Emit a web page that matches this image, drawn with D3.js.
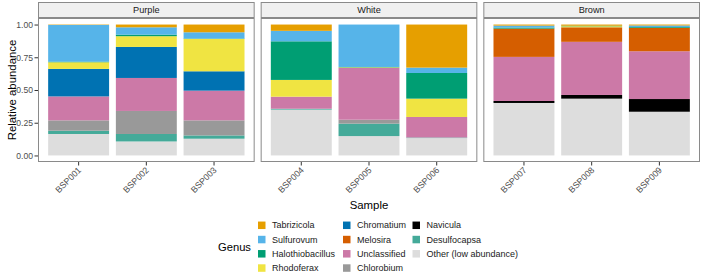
<!DOCTYPE html>
<html>
<head>
<meta charset="utf-8">
<script src="https://d3js.org/d3.v7.min.js"></script>
<style>
  body { margin: 0; background: #ffffff; }
  text { font-family: "Liberation Sans", Arial, sans-serif; }
</style>
</head>
<body>
<div id="chart"></div>
<script>
// Samples and the facet each one belongs to
const samples = ["BSP001", "BSP002", "BSP003", "BSP004", "BSP005", "BSP006", "BSP007", "BSP008", "BSP009"];
const sampleGroup = ["Purple", "Purple", "Purple", "White", "White", "White", "Brown", "Brown", "Brown"];
const groups = ["Purple", "White", "Brown"];

// Genera in legend order (top of stack first)
const genera = ["Tabrizicola", "Sulfurovum", "Halothiobacillus", "Rhodoferax", "Chromatium", "Melosira",
    "Unclassified", "Chlorobium", "Navicula", "Desulfocapsa", "Other (low abundance)"];
const genusColors = ["#E69F00", "#56B4E9", "#009E73", "#F0E442", "#0072B2", "#D55E00",
    "#CC79A7", "#999999", "#000000", "#44AA99", "#DDDDDD"];

// Relative abundance per genus, one value per sample (BSP001..BSP009)
const tabrizicola      = [0.003, 0.021, 0.059, 0.048, 0.000, 0.329, 0.008, 0.009, 0.007];
const sulfurovum       = [0.280, 0.056, 0.048, 0.080, 0.324, 0.041, 0.015, 0.000, 0.012];
const halothiobacillus = [0.005, 0.012, 0.003, 0.295, 0.003, 0.196, 0.008, 0.004, 0.006];
const rhodoferax       = [0.051, 0.082, 0.247, 0.128, 0.004, 0.140, 0.000, 0.008, 0.000];
const chromatium       = [0.210, 0.237, 0.148, 0.000, 0.000, 0.000, 0.000, 0.000, 0.000];
const melosira         = [0.000, 0.000, 0.000, 0.000, 0.000, 0.000, 0.216, 0.111, 0.179];
const unclassified     = [0.183, 0.252, 0.227, 0.092, 0.396, 0.157, 0.337, 0.406, 0.365];
const chlorobium       = [0.079, 0.176, 0.115, 0.000, 0.030, 0.000, 0.000, 0.000, 0.000];
const navicula         = [0.000, 0.000, 0.000, 0.000, 0.000, 0.000, 0.015, 0.028, 0.097];
const desulfocapsa     = [0.025, 0.057, 0.025, 0.007, 0.095, 0.004, 0.000, 0.000, 0.000];
const other            = [0.164, 0.107, 0.128, 0.350, 0.148, 0.133, 0.401, 0.434, 0.334];

const seriesValues = [tabrizicola, sulfurovum, halothiobacillus, rhodoferax, chromatium, melosira,
    unclassified, chlorobium, navicula, desulfocapsa, other];

const yTicks = [0, 0.25, 0.5, 0.75, 1];

// Size and layout
const width = 702;
const height = 273;
const panelLeft = 38;
const panelGap = 6;
const panelWidth = (width - 2 - panelLeft - 2 * panelGap) / 3;
const stripTop = 2;
const stripHeight = 16;
const panelTop = stripTop + stripHeight;
const panelBottom = 162;
const borderColor = "#8a8a8a";
const textColor = "#4d4d4d";

const svg = d3.select("#chart")
    .append("svg")
    .attr("width", width)
    .attr("height", height);

// Build a table: one row per sample with each genus as a column
const table = samples.map(function (s, i) {
    const row = { sample: s, group: sampleGroup[i] };
    genera.forEach(function (g, j) { row[g] = seriesValues[j][i]; });
    return row;
});

// ggplot stacks the last legend entry at the bottom
const stack = d3.stack().keys(genera.slice().reverse());
const colorScale = d3.scaleOrdinal().domain(genera).range(genusColors);

// y scale with 5% expansion like ggplot
const yExpand = (panelBottom - panelTop) * 0.05 / 1.1;
const y = d3.scaleLinear()
    .domain([0, 1])
    .range([panelBottom - yExpand, panelTop + yExpand]);

const facetX = d3.scaleBand()
    .domain(groups)
    .range([panelLeft, panelLeft + 3 * panelWidth + 2 * panelGap])
    .paddingInner(panelGap / (panelWidth + panelGap));

groups.forEach(function (grp, gi) {
    const rows = table.filter(function (d) { return d.group === grp; });
    const x0 = facetX(grp);
    const x = d3.scaleBand()
        .domain(rows.map(function (d) { return d.sample; }))
        .range([x0, x0 + facetX.bandwidth()])
        .paddingInner(0.1)
        .paddingOuter(0.15);

    const g = svg.append("g");

    // Panel background
    g.append("rect")
        .attr("x", x0)
        .attr("y", panelTop)
        .attr("width", facetX.bandwidth())
        .attr("height", panelBottom - panelTop)
        .attr("fill", "#ffffff");

    // Stacked bars
    const layers = stack(rows);
    g.selectAll("g.layer")
        .data(layers)
        .enter().append("g")
        .attr("class", "layer")
        .attr("fill", function (d) { return colorScale(d.key); })
        .selectAll("rect")
        .data(function (d) { return d; })
        .enter().append("rect")
        .attr("x", function (d) { return x(d.data.sample); })
        .attr("y", function (d) { return y(d[1]); })
        .attr("width", x.bandwidth())
        .attr("height", function (d) { return Math.max(0, y(d[0]) - y(d[1])); });

    // Panel border
    g.append("rect")
        .attr("x", x0 + 0.5)
        .attr("y", panelTop + 0.5)
        .attr("width", facetX.bandwidth() - 1)
        .attr("height", panelBottom - panelTop - 1)
        .attr("fill", "none")
        .attr("stroke", borderColor)
        .attr("stroke-width", 1);

    // Strip
    g.append("rect")
        .attr("x", x0 + 0.5)
        .attr("y", stripTop + 0.5)
        .attr("width", facetX.bandwidth() - 1)
        .attr("height", stripHeight - 1)
        .attr("fill", "#f0f0f0")
        .attr("stroke", borderColor)
        .attr("stroke-width", 1);

    g.append("text")
        .attr("x", x0 + facetX.bandwidth() / 2)
        .attr("y", stripTop + stripHeight / 2)
        .attr("dy", "0.35em")
        .attr("text-anchor", "middle")
        .style("font-size", "9.2px")
        .style("fill", "#1a1a1a")
        .text(grp);

    // X axis ticks and rotated labels
    const xAxis = g.append("g");
    rows.forEach(function (d) {
        const cx = x(d.sample) + x.bandwidth() / 2;
        xAxis.append("line")
            .attr("x1", cx).attr("x2", cx)
            .attr("y1", panelBottom).attr("y2", panelBottom + 3.5)
            .attr("stroke", "#333333");
        xAxis.append("text")
            .attr("transform", "translate(" + (cx - 1.5) + "," + (panelBottom + 4) + ") rotate(-45)")
            .attr("text-anchor", "end")
            .attr("dy", "0.75em")
            .style("font-size", "8.8px")
            .style("fill", textColor)
            .text(d.sample);
    });

    // Y axis only on the first panel
    if (gi === 0) {
        const yAxis = svg.append("g")
            .attr("transform", "translate(" + x0 + ",0)")
            .call(d3.axisLeft(y).tickValues(yTicks).tickFormat(d3.format(".2f")).tickSize(3.5).tickPadding(1.5));
        yAxis.select(".domain").remove();
        yAxis.selectAll(".tick line").attr("stroke", "#333333");
        yAxis.selectAll(".tick text")
            .style("font-size", "8.6px")
            .style("fill", textColor)
            .style("font-family", "'Liberation Sans', Arial, sans-serif");
    }
});

// Axis titles
svg.append("text")
    .attr("transform", "translate(12," + ((panelTop + panelBottom) / 2) + ") rotate(-90)")
    .attr("text-anchor", "middle")
    .attr("dy", "0.35em")
    .style("font-size", "11.4px")
    .style("fill", "#000000")
    .text("Relative abundance");

svg.append("text")
    .attr("x", (panelLeft + width - 2) / 2)
    .attr("y", 209)
    .attr("text-anchor", "middle")
    .style("font-size", "11.4px")
    .style("fill", "#000000")
    .text("Sample");

// Legend: 4 rows, filled column by column
const legendColX = [258, 343, 412.5];
const legendRowY = 225.3;
const legendRowStep = 14.25;
const keySize = 7.5;

const legend = svg.append("g");

legend.append("text")
    .attr("x", 218)
    .attr("y", legendRowY + 1.5 * legendRowStep)
    .attr("dy", "0.35em")
    .style("font-size", "11.2px")
    .style("fill", "#000000")
    .text("Genus");

genera.forEach(function (gName, i) {
    const col = Math.floor(i / 4);
    const row = i % 4;
    const cy = legendRowY + row * legendRowStep;
    legend.append("rect")
        .attr("x", legendColX[col])
        .attr("y", cy - keySize / 2)
        .attr("width", keySize)
        .attr("height", keySize)
        .attr("fill", genusColors[i]);
    legend.append("text")
        .attr("x", legendColX[col] + 14)
        .attr("y", cy)
        .attr("dy", "0.35em")
        .style("font-size", "9px")
        .style("fill", "#1a1a1a")
        .text(gName);
});
</script>
</body>
</html>
